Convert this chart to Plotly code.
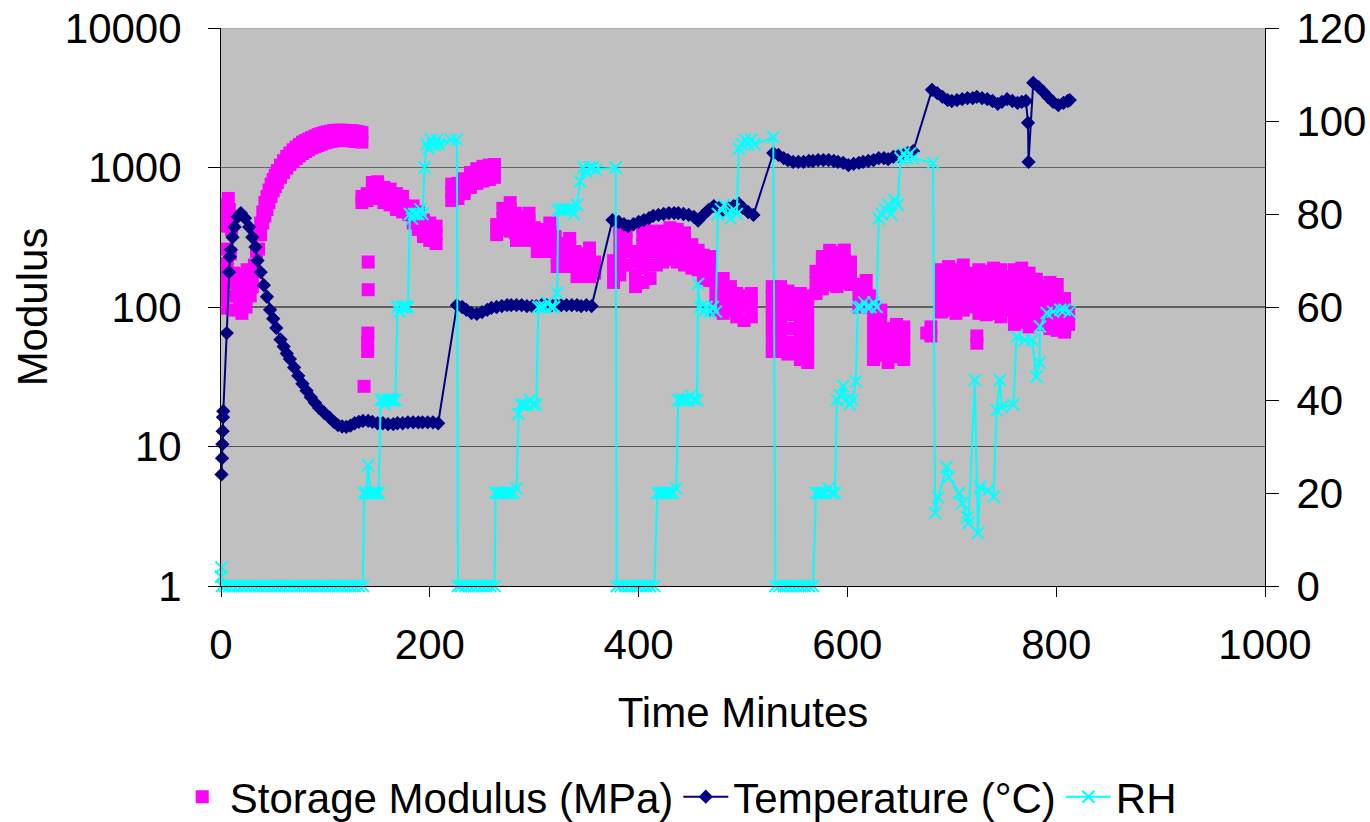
import plotly.graph_objects as go

# ---------------- Storage modulus (MPa), log axis ----------------
mod_time = [
    # start-up scatter
    0, 0.5, 1, 2, 1.5, 3, 6, 9, 12, 15,
    4, 5, 6, 7, 8, 9, 10, 6, 9,
    12, 14, 16, 18, 20, 22, 24, 26, 28, 30, 13, 17, 21, 25,
    30, 32, 34,
    # first conditioning curve
    36, 36, 38, 38, 40, 40, 42, 42, 44, 44, 46, 46, 48, 48, 50, 50, 52, 52, 54, 54,
    57, 57, 60, 60, 63, 63, 66, 66, 69, 69, 72, 72, 75, 75, 78, 78, 81, 81, 84, 84,
    87, 87, 90, 90, 93, 93, 96, 96, 99, 99, 102, 102, 105, 105, 108, 108, 111, 111,
    114, 114, 117, 117, 120, 120, 123, 123, 126, 126, 129, 129, 132, 132, 135, 135,
    137, 140.5, 140.5, 140.7, 141, 141,
    135, 135, 140, 140, 145, 145, 145, 150, 150, 150,
    156, 156, 156, 162, 162, 162, 168, 168, 168, 174, 174, 174, 180, 180,
    184, 184, 184, 189, 189, 189,
    194, 194, 194, 200, 200, 200, 206, 206, 206,
    221, 221, 221, 227, 227, 227, 233, 233, 233, 239, 239, 239,
    245, 245, 245, 251, 251, 251, 257, 257, 257, 262, 262, 262,
    264, 264, 270, 270, 270, 277, 277, 277, 277, 282, 282, 282,
    283, 283, 289, 289, 289, 295, 295, 295, 295, 300, 300,
    303, 303, 309, 309, 309, 315, 315, 315, 315, 320, 320,
    322, 322, 328, 328, 328, 334, 334, 334, 334, 339, 339,
    341, 341, 347, 347, 347, 353, 353, 353, 353, 358, 358,
    376, 376, 376, 382, 382, 382, 382, 382, 388, 388, 388, 388,
    397, 397, 397, 397, 404, 404, 404, 404, 404, 404, 411, 411, 411, 411, 411, 417, 417, 417,
    423, 423, 423, 423, 430, 430, 430, 430, 437, 437, 437, 437,
    444, 444, 444, 444, 451, 451, 451, 457, 457, 457,
    462, 462, 462, 468, 468, 468,
    474, 474, 474, 474, 481, 481, 481, 481, 488, 488, 488,
    494, 494, 494, 501, 501, 501, 508, 508, 508,
    528, 528, 528, 528, 528, 528, 528, 536, 536, 536, 536, 536, 536, 536, 543, 543, 543, 543, 543, 543,
    555, 555, 555, 555, 555, 555, 555, 562, 562, 562, 562, 562, 562, 562,
    570, 570, 570, 576, 576, 576, 576, 583, 583, 583, 583,
    590, 590, 590, 590, 597, 597, 597, 597, 603, 603, 603,
    611, 611, 611, 618, 618, 618, 623, 623,
    625, 625, 625, 625, 625, 625, 632, 632, 632, 632, 632, 639, 639, 639, 639,
    647, 647, 647, 647, 654, 654, 654, 654,
    676, 680, 680,
    690, 690, 690, 690, 690, 697, 697, 697, 697, 697, 704, 704, 704, 704, 704,
    711, 711, 711, 711, 711, 717, 717, 717, 717,
    724, 724, 726, 726, 726, 726, 726, 733, 733, 733, 733, 733, 740, 740, 740, 740, 740,
    747, 747, 747, 747, 747, 753, 753, 753, 753,
    760, 760, 760, 760, 760, 760, 767, 767, 767, 767, 767, 767, 774, 774, 774, 774, 774, 774,
    781, 781, 781, 781, 781, 787, 787, 787, 787,
    794, 794, 794, 794, 794, 801, 801, 801, 801, 801, 808, 808, 808, 808, 812, 812,
]
mod_value = [
    105, 140, 125, 98, 190, 170, 205, 160, 175, 160,
    380, 460, 540, 600, 500, 420, 360, 260, 240,
    120, 95, 140, 110, 90, 130, 100, 150, 120, 170, 150, 170, 160, 185,
    140, 200, 250,
    260, 330, 330, 400, 400, 480, 450, 560, 500, 620, 560, 690, 620, 760, 680, 820, 730, 880, 780, 950,
    850, 1040, 920, 1120, 990, 1200, 1050, 1270, 1100, 1340, 1160, 1400, 1210, 1460, 1260, 1520, 1300, 1560, 1340, 1600,
    1380, 1640, 1410, 1680, 1440, 1720, 1470, 1750, 1500, 1780, 1520, 1800, 1540, 1820, 1550, 1840, 1560, 1850,
    1570, 1850, 1570, 1850, 1560, 1840, 1560, 1840, 1550, 1830, 1540, 1820, 1540, 1800, 1520, 1780,
    27, 48, 56, 65, 133, 210,
    560, 620, 580, 650, 600, 680, 780, 620, 700, 790,
    560, 640, 720, 540, 620, 700, 500, 570, 650, 480, 550, 620, 460, 520,
    400, 460, 530, 360, 420, 480,
    320, 370, 420, 300, 345, 400, 285, 330, 380,
    580, 660, 760, 600, 680, 770, 650, 740, 830, 720, 820, 920,
    770, 870, 980, 800, 900, 1020, 820, 920, 1040, 850, 950, 1050,
    330, 390, 360, 430, 510, 350, 420, 500, 560, 340, 400, 470,
    300, 350, 310, 370, 440, 300, 360, 420, 470, 310, 370,
    250, 290, 260, 310, 360, 250, 300, 350, 400, 270, 320,
    195, 230, 200, 240, 285, 195, 235, 275, 310, 210, 250,
    165, 195, 170, 205, 240, 165, 200, 235, 265, 175, 210,
    150, 180, 215, 170, 210, 260, 320, 370, 200, 250, 300, 350,
    140, 170, 210, 250, 150, 190, 230, 280, 330, 380, 160, 200, 250, 300, 350, 200, 250, 300,
    210, 250, 300, 350, 220, 270, 320, 370, 210, 260, 310, 360,
    200, 240, 290, 340, 190, 230, 280, 185, 220, 255,
    160, 195, 235, 155, 190, 230,
    95, 115, 140, 160, 90, 110, 135, 160, 95, 115, 140,
    85, 105, 125, 80, 100, 120, 85, 105, 125,
    48, 58, 70, 84, 100, 120, 140, 48, 58, 70, 84, 100, 120, 140, 46, 56, 70, 88, 108, 130,
    42, 50, 60, 72, 86, 104, 125, 40, 48, 58, 70, 84, 100, 120,
    125, 150, 180, 135, 160, 195, 230, 145, 175, 210, 255,
    140, 170, 205, 245, 150, 180, 215, 256, 145, 175, 210,
    100, 120, 145, 105, 125, 155, 100, 120,
    42, 50, 60, 72, 86, 100, 45, 55, 66, 80, 95, 40, 48, 58, 70,
    44, 52, 62, 75, 42, 50, 60, 72,
    65, 72, 62,
    92, 110, 130, 155, 185, 95, 115, 140, 165, 195, 90, 108, 130, 155, 185,
    95, 115, 140, 170, 200, 100, 120, 145, 175,
    55, 62, 90, 108, 130, 155, 185, 88, 105, 128, 150, 180, 90, 110, 132, 160, 190,
    85, 105, 128, 155, 185, 95, 115, 140, 165,
    75, 90, 110, 130, 155, 185, 78, 95, 115, 138, 165, 190, 72, 88, 105, 125, 150, 175,
    75, 92, 110, 132, 158, 80, 96, 115, 140,
    70, 85, 102, 122, 150, 68, 82, 100, 120, 145, 66, 80, 96, 115, 75, 90,
]

# ---------------- Temperature (°C), right axis ----------------
temp_time = [
    0.5, 1, 1.3, 1.6, 1.9, 2.2, 5.5, 7.7, 8.5, 9.5, 11, 13, 16, 19, 23, 27, 30, 33, 35, 38,
    41, 44, 47, 50, 53, 57, 60, 63, 66, 70, 74, 78, 82, 86, 90, 94, 99, 104, 108, 112,
    116, 120, 124, 128, 132, 136, 141, 145, 150, 155, 160, 165, 169, 174, 179, 184, 189, 193, 198, 203, 208,
    226, 231, 235, 240, 245, 250, 255, 259, 264, 269, 274, 278, 283, 288, 293, 298, 302, 307,
    312, 317, 321, 326, 331, 336, 341, 345, 350, 355,
    375, 381, 386, 390, 395, 400, 405, 410, 414, 419, 424, 429, 434, 438, 443, 448, 453, 457,
    462, 467, 472, 477, 481, 486, 491, 496, 500, 505, 510,
    529, 534, 539, 543, 548, 553, 558, 563, 567, 572, 577, 582, 587, 591, 596, 601, 606, 611,
    615, 620, 625, 630, 635, 639, 644, 649, 654, 658, 663,
    681, 686, 691, 696, 700, 705, 710, 715, 720, 724, 729, 734, 739, 744, 748, 753, 758, 763,
    767, 771, 773, 773.5, 778, 783, 788, 792, 797, 802, 807, 811, 813,
]
temp_value = [
    24, 27.5, 30.5, 33.3, 36.3, 37.6, 54.4, 67.5, 70.8, 72.3, 75, 77.2, 79.4, 80.2, 79.1, 77.2, 75, 72.9, 70, 67.5,
    64.7, 62.2, 59.4, 57.5, 55.5, 53, 51.5, 50, 48.8, 47, 45.2, 43.5, 42, 40.6, 39.4, 38.3, 37.2, 36.2, 35.3, 34.6,
    34.3, 34.2, 34.5, 35, 35.3, 35.5, 35.5, 35.3, 35, 35, 34.8, 34.8, 35, 35, 35.2, 35.2, 35.2, 35.2, 35.2, 35.2, 35,
    60.4, 60, 59.4, 58.7, 58.5, 58.9, 59.4, 59.8, 60, 60.2, 60.4, 60.4, 60.4, 60.4, 60.2, 60.2, 60.2, 60.4,
    60.4, 60.4, 60.4, 60.4, 60.4, 60.4, 60.4, 60.2, 60.4, 60.2,
    78.7, 78.3, 77.8, 77.4, 77.8, 78.3, 78.7, 79.1, 79.6, 79.8, 80, 80.2, 80.2, 80.2, 80, 79.8, 79.4, 78.6,
    79.8, 80.9, 81.7, 81.3, 80.9, 81.3, 81.7, 82.2, 81.3, 80.4, 79.8,
    93.1, 92.7, 92, 91.6, 91.2, 91.2, 91.2, 91.4, 91.4, 91.6, 91.6, 91.6, 91.4, 91.2, 91, 90.5, 90.8, 91,
    91.2, 91.4, 91.6, 92, 92, 91.8, 92.3, 92.5, 92.7, 93.1, 93.5,
    106.7, 106, 105.2, 104.5, 104.3, 104.5, 104.7, 104.9, 104.9, 105.2, 104.9, 104.7, 104.3, 103.7, 104.1, 104.7, 104.3, 103.9,
    104.1, 104.3, 99.6, 91.2, 108.2, 107.3, 106.2, 105.2, 104.1, 103.4, 103.9, 104.3, 104.5,
]

# ---------------- Relative humidity (%), right axis ----------------
rh_time = [
    0, 0.5, 1, 4, 8, 12, 16, 20, 24, 28, 32, 36, 40, 44, 48, 52, 56, 60, 64, 68,
    72, 76, 80, 84, 88, 92, 96, 100, 104, 108, 112, 116, 120, 124, 128, 132, 136,
    137, 139, 141, 143, 145, 147, 149, 151, 153, 155, 157, 159, 161, 163, 165, 167,
    169, 171, 173, 175, 177, 179, 181, 183, 185, 187, 189, 191, 193, 195, 197, 199,
    201, 203, 205, 207, 209, 220, 226,
    227, 230, 234, 238, 242, 246, 250, 254, 258, 262,
    263, 265, 268, 271, 274, 277, 280, 283, 285, 287, 290, 293, 296, 299, 302,
    304, 307, 310, 313, 316, 319, 322, 323, 326, 329, 332, 335, 338, 341, 344,
    347, 350, 353, 356, 359, 378,
    379, 383, 387, 391, 395, 399, 403, 407, 411, 415,
    418, 421, 424, 427, 430, 433, 436, 438, 441, 444, 447, 450, 453, 456, 457,
    459, 462, 465, 468, 471, 474, 476, 479, 482, 485, 488, 491, 494, 496, 499,
    502, 505, 508, 511, 529,
    531, 535, 539, 543, 547, 551, 555, 559, 563, 567,
    570, 573, 576, 579, 582, 585, 588, 590, 593, 596, 599, 602, 605, 608,
    610, 613, 616, 619, 622, 625, 628, 630, 633, 636, 639, 642, 645, 648,
    651, 654, 657, 660, 663, 682,
    684, 687, 695, 697, 707, 710, 715, 716, 722, 725, 727, 735, 740, 743, 746, 748,
    759, 762, 770, 777, 781, 784, 784.5, 791, 797, 804, 808, 813,
]
rh_value = [
    2, 4, 0, 0, 0, 0, 0, 0, 0, 0, 0, 0, 0, 0, 0, 0, 0, 0, 0, 0,
    0, 0, 0, 0, 0, 0, 0, 0, 0, 0, 0, 0, 0, 0, 0, 0, 0,
    20, 20, 26, 20, 20, 20, 20, 20, 40, 40, 39, 40, 40, 40, 40, 40,
    60, 59, 60, 60, 60, 60, 80, 79, 80, 80, 80, 81, 80, 90, 95, 94,
    96, 95, 95, 96, 95, 96, 96,
    0, 0, 0, 0, 0, 0, 0, 0, 0, 0,
    20, 20, 20, 20, 20, 20, 20, 21, 37, 39, 39, 39, 40, 39, 39,
    60, 60, 60, 61, 60, 60, 63, 80.8, 81, 81, 81, 81, 80, 82, 87,
    90, 89, 90, 90, 89.5, 90,
    0, 0, 0, 0, 0, 0, 0, 0, 0, 0,
    20, 20, 20, 20, 20, 20, 21, 40, 40, 40, 40, 41, 40, 40, 65,
    60, 59, 60, 59, 60, 59, 80, 81, 82, 80, 79, 81, 80, 94, 95,
    96, 95, 96, 95, 96.5,
    0, 0, 0, 0, 0, 0, 0, 0, 0, 0,
    20, 20, 20, 20, 21, 20, 20, 40, 41, 43, 40, 39, 40, 44,
    60, 60, 61, 60, 60, 61, 60, 79, 80, 81, 82, 80, 83, 82,
    92, 93, 92, 93, 92, 91,
    15.7, 19, 25.6, 23.4, 20, 17.8, 14.8, 13.5, 44.3, 11.4, 21.3, 20.6, 19.2, 37.8, 44.3, 38.5,
    39, 53.6, 52.9, 52.9, 45, 48, 55.8, 58.7, 59, 59.4, 59.4, 59,
]

# Axis ticks
x_ticks = [0, 200, 400, 600, 800, 1000]
mod_ticks = [1, 10, 100, 1000, 10000]
right_ticks = [0, 20, 40, 60, 80, 100, 120]

FONT = "Arial, Liberation Sans, sans-serif"
BIG = 42

fig = go.Figure()

fig.add_trace(go.Scatter(
    x=mod_time, y=mod_value, mode="markers", name="Storage Modulus (MPa)",
    marker=dict(symbol="square", size=13, color="#FF00FF", line=dict(width=0)),
    yaxis="y",
))
fig.add_trace(go.Scatter(
    x=temp_time, y=temp_value, mode="lines+markers", name="Temperature (°C)",
    line=dict(color="#000080", width=2),
    marker=dict(symbol="diamond", size=11, color="#000080", line=dict(width=0)),
    yaxis="y2", cliponaxis=False,
))
fig.add_trace(go.Scatter(
    x=rh_time, y=rh_value, mode="lines+markers", name="RH",
    line=dict(color="#00FFFF", width=2),
    marker=dict(symbol="x-thin", size=12, color="#00FFFF",
                line=dict(width=2, color="#00FFFF")),
    yaxis="y2", cliponaxis=False,
))

# Horizontal gridlines of the modulus axis
grid_specs = [(10000, "#9a9a9a"), (1000, "#666666"), (100, "#000000"), (10, "#555555")]
shapes = [
    dict(type="line", xref="paper", x0=0, x1=1, yref="y", y0=v, y1=v,
         line=dict(color=c, width=1), layer="below")
    for v, c in grid_specs
]

fig.update_layout(
    width=1370, height=822,
    margin=dict(l=221, r=105, t=28, b=236, autoexpand=False),
    paper_bgcolor="white",
    plot_bgcolor="#C0C0C0",
    font=dict(family=FONT, size=BIG, color="black"),
    showlegend=True,
    legend=dict(
        orientation="h", x=0.438, xanchor="center", y=-0.378, yanchor="middle",
        font=dict(size=BIG, family=FONT), bgcolor="rgba(0,0,0,0)",
        itemwidth=45,
    ),
    shapes=shapes,
    xaxis=dict(
        range=[0, 1000], tickvals=x_ticks, ticks="outside", ticklen=10,
        tickcolor="black", showline=True, linecolor="black", linewidth=1,
        showgrid=False, zeroline=False, tickfont=dict(size=BIG),
        ticklabelstandoff=12, automargin=False,
        title=dict(text="Time Minutes", font=dict(size=BIG), standoff=30),
    ),
    yaxis=dict(
        type="log", range=[0, 4], tickvals=mod_ticks,
        ticktext=[str(v) for v in mod_ticks], ticks="outside", ticklen=12,
        tickcolor="black", showline=True, linecolor="black", linewidth=1,
        showgrid=False, zeroline=False, tickfont=dict(size=BIG),
        ticklabelstandoff=18, automargin=False,
        title=dict(text="Modulus", font=dict(size=BIG), standoff=4),
    ),
    yaxis2=dict(
        overlaying="y", side="right", range=[0, 120], tickvals=right_ticks,
        ticks="outside", ticklen=13, tickcolor="black", showline=True,
        linecolor="black", linewidth=1, showgrid=False, zeroline=False,
        tickfont=dict(size=BIG), ticklabelstandoff=9, automargin=False,
    ),
    yaxis3=dict(
        overlaying="y", side="right", range=[0, 120], tickvals=right_ticks,
        ticks="inside", ticklen=13, tickcolor="black", showline=False,
        showticklabels=False, showgrid=False, zeroline=False, automargin=False,
    ),
)

fig.write_html("out.html")
